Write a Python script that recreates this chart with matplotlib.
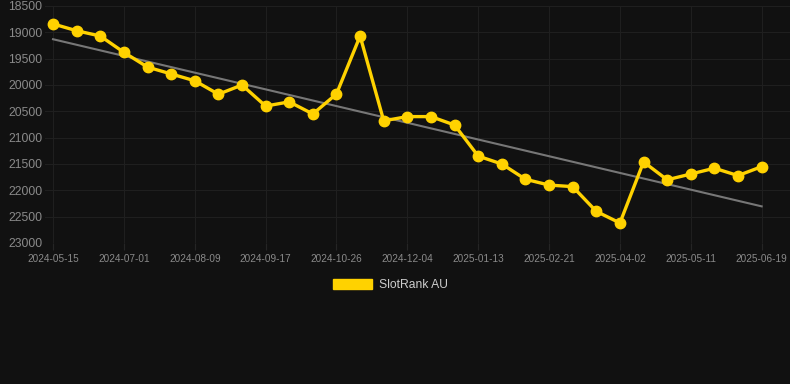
import numpy as np
import matplotlib
matplotlib.use("Agg")
import matplotlib.pyplot as plt
from matplotlib.patches import Patch

plt.rcParams['font.family'] = ['Liberation Sans', 'DejaVu Sans']

dates = ["2024-05-15", "2024-07-01", "2024-08-09", "2024-09-17", "2024-10-26",
         "2024-12-04", "2025-01-13", "2025-02-21", "2025-04-02", "2025-05-11",
         "2025-06-19"]
ranks = [18840, 18970, 19070, 19380, 19660, 19790, 19920, 20175, 20000, 20400,
         20320, 20550, 20170, 19070, 20680, 20600, 20600, 20760, 21350, 21500,
         21790, 21900, 21930, 22400, 22620, 21460, 21800, 21690, 21580, 21720,
         21550]
series_name = "SlotRank AU"
y_ticks = [18500, 19000, 19500, 20000, 20500, 21000, 21500, 22000, 22500, 23000]

bg = "#111111"
yellow = "#FFD200"

fig = plt.figure(figsize=(7.9, 3.84), dpi=100, facecolor=bg)
ax = fig.add_axes([45/790, 141/384, 745/790, 237/384], facecolor=bg)

x = np.arange(len(ranks))
slope, intercept = np.polyfit(x, ranks, 1)
ax.plot(x, slope * x + intercept, color="#777777", lw=1.5, zorder=2)
ax.plot(x, ranks, color=yellow, lw=2.4, marker="o", markersize=7.5, zorder=3)

ax.set_ylim(23000, 18500)
ax.set_xlim(-0.34, 31.2)
ax.set_yticks(y_ticks)
ax.set_yticklabels([str(v) for v in y_ticks])
tick_pos = x[::3]
ax.set_xticks(tick_pos)
ax.set_xticklabels(dates)

ax.grid(True, color="#1f1f1f", lw=0.8)
for s in ax.spines.values():
    s.set_visible(False)
ax.tick_params(axis="y", length=0, pad=2, labelsize=8.7, labelcolor="#8a8a8a")
ax.tick_params(axis="x", length=5, width=0.8, color="#252525", pad=3,
               labelsize=7.2, labelcolor="#8a8a8a")

fig.legend(handles=[Patch(facecolor=yellow, edgecolor=yellow, label=series_name)],
           loc="center", bbox_to_anchor=(390/790, 1 - 285/384), frameon=False,
           fontsize=8.7, labelcolor="#cccccc", handlelength=3.3, handleheight=0.9,
           handletextpad=0.5)

fig.savefig("out.png", dpi=100, facecolor=bg)
